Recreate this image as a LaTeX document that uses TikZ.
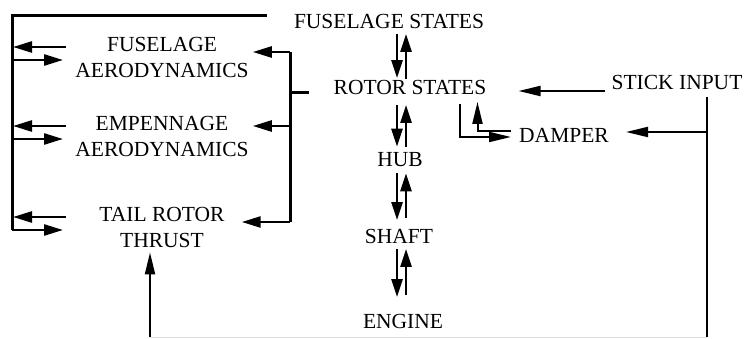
\documentclass[tikz,border=0pt]{standalone}
\usepackage{fontspec}
\setmainfont{Liberation Serif}
\usetikzlibrary{positioning,arrows.meta}

\begin{document}
\begin{tikzpicture}[x=1pt, y=-1pt,
  lbl/.style={inner sep=0pt, align=center, font=\fontsize{21.5}{26}\selectfont},
  bus/.style={line width=3pt},
  arr/.style={-{Triangle[length=19pt, width=11pt]}, line width=2.6pt},
  darr/.style={-{Triangle[length=18pt, width=11pt]}, line width=2.6pt},
  sarr/.style={-{Triangle[length=22pt, width=10pt]}, line width=2pt},
  faint/.style={line width=1pt, gray!25}]
\useasboundingbox (0,0) rectangle (744,339);
% blocks
\node[lbl] (fus) at (389,21.5) {FUSELAGE STATES};
\node[lbl] (rot) at (410,87.5) {ROTOR STATES};
\node[lbl] (hub) at (400,160) {HUB};
\node[lbl] (sft) at (399,236.5) {SHAFT};
\node[lbl] (eng) at (403,321.5) {ENGINE};
\node[lbl] (fa) at (162,57) {FUSELAGE\\AERODYNAMICS};
\node[lbl] (ea) at (162,136) {EMPENNAGE\\AERODYNAMICS};
\node[lbl] (tr) at (162,227) {TAIL ROTOR\\THRUST};
\node[lbl] (dmp) at (564,135.5) {DAMPER};
\node[lbl] (stk) at (677,82) {STICK INPUT};
% bus positions
\coordinate (lbus) at (12,0);
\coordinate (lstub) at (66,0);
\coordinate (rbus) at (290,0);
\coordinate (dn) at (397,0);
\coordinate (up) at (406,0);
\coordinate (bot) at (0,337);
% left loop
\draw[bus] ([yshift=5.5pt, xshift=-27pt]fus.west) -| ([yshift=-3pt]tr.west -| lbus);
\foreach \n in {fa,ea,tr} {
  \draw[arr] ([yshift=10pt]\n.west -| lstub) -- ([yshift=10pt, xshift=1pt]\n.west -| lbus);
  \draw[arr] ([yshift=-3pt]\n.west -| lbus) -- ([yshift=-3pt, xshift=-3pt]\n.west -| lstub);
}
% right bracket
\draw[bus] ([yshift=5pt]fa.east -| rbus) -- ([yshift=5pt]tr.east -| rbus);
\draw[bus] ([yshift=-5.5pt]rot.west -| rbus) -- ([yshift=-5.5pt, xshift=-25pt]rot.west);
\draw[arr, shorten >=4pt] ([yshift=5pt]fa.east -| rbus) -- ([yshift=5pt]fa.east);
\draw[arr, shorten >=4pt] ([yshift=10pt]ea.east -| rbus) -- ([yshift=10pt]ea.east);
\draw[arr, shorten >=17pt] ([yshift=5pt]tr.east -| rbus) -- ([yshift=5pt]tr.east);
% rotor chain
\draw[darr, shorten <=5pt, shorten >=2pt] (fus.south -| dn) -- (rot.north -| dn);
\draw[darr, shorten <=1pt, shorten >=5pt] (rot.north -| up) -- (fus.south -| up);
\draw[darr, shorten <=10pt, shorten >=6pt] (rot.south -| dn) -- (hub.north -| dn);
\draw[darr, shorten <=6pt, shorten >=10pt] (hub.north -| up) -- (rot.south -| up);
\draw[darr, shorten <=6pt, shorten >=9pt] (hub.south -| dn) -- (sft.north -| dn);
\draw[darr, shorten <=11pt, shorten >=6pt] (sft.north -| up) -- (hub.south -| up);
\draw[darr, shorten <=5pt, shorten >=17pt] (sft.south -| dn) -- (eng.north -| dn);
\draw[darr, shorten <=19pt, shorten >=5pt] (eng.north -| up) -- (sft.south -| up);
% stick and damper
\draw[sarr, shorten <=6pt, shorten >=32pt] ([yshift=-9pt]stk.west) -- ([yshift=-9pt]stk.west -| rot.east);
\draw[line width=2pt, shorten <=8pt] ([xshift=30pt]stk.south) -- ([xshift=30pt]stk.south |- bot);
\draw[sarr, shorten >=17pt] ([yshift=3.5pt, xshift=30pt]stk.south |- dmp.east) -- ([yshift=3.5pt]dmp.east);
\draw[sarr, shorten <=9pt, shorten >=8pt] ([xshift=-27pt]rot.south east) |- ([yshift=-1.5pt]dmp.west);
\draw[sarr, shorten <=8pt, shorten >=7pt] ([yshift=4.5pt]dmp.west) -| ([xshift=-9pt]rot.south east);
\draw[faint] ([xshift=30pt]stk.south |- bot) -- ([xshift=-12pt]tr.south |- bot);
\draw[sarr, shorten >=5pt] ([xshift=-12pt]tr.south |- bot) -- ([xshift=-12pt]tr.south);
\end{tikzpicture}
\end{document}
